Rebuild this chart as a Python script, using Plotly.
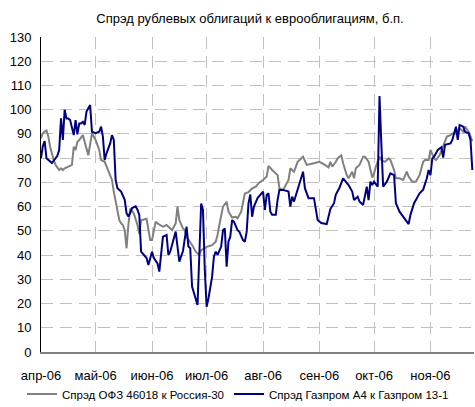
import plotly.graph_objects as go

title_text = "Спрэд рублевых облигаций к еврооблигациям, б.п."
name_gray = "Спрэд ОФЗ 46018 к Россия-30"
name_blue = "Спрэд Газпром А4 к Газпром 13-1"

tick_dates = ["2006-04-01", "2006-05-01", "2006-06-01", "2006-07-01",
              "2006-08-01", "2006-09-01", "2006-10-01", "2006-11-01"]
tick_labels = ["апр-06", "май-06", "июн-06", "июл-06",
               "авг-06", "сен-06", "окт-06", "ноя-06"]

gray_dates = [
    "2006-04-01", "2006-04-02", "2006-04-03", "2006-04-04", "2006-04-05", "2006-04-06",
    "2006-04-08", "2006-04-09", "2006-04-11", "2006-04-12", "2006-04-13", "2006-04-14",
    "2006-04-16", "2006-04-18", "2006-04-19", "2006-04-20", "2006-04-21", "2006-04-22",
    "2006-04-24", "2006-04-26", "2006-04-27", "2006-04-29", "2006-05-01", "2006-05-03",
    "2006-05-04", "2006-05-06", "2006-05-08", "2006-05-10", "2006-05-11", "2006-05-13",
    "2006-05-14", "2006-05-15", "2006-05-16", "2006-05-17", "2006-05-18", "2006-05-19",
    "2006-05-20", "2006-05-22", "2006-05-24", "2006-05-25", "2006-05-26", "2006-05-29",
    "2006-05-31", "2006-06-01", "2006-06-03", "2006-06-04", "2006-06-07", "2006-06-09",
    "2006-06-12", "2006-06-14", "2006-06-15", "2006-06-16", "2006-06-18", "2006-06-19",
    "2006-06-20", "2006-06-23", "2006-06-25", "2006-06-27", "2006-06-28", "2006-07-01",
    "2006-07-04", "2006-07-06", "2006-07-07", "2006-07-08", "2006-07-09", "2006-07-10",
    "2006-07-12", "2006-07-13", "2006-07-15", "2006-07-17", "2006-07-18", "2006-07-20",
    "2006-07-22", "2006-07-24", "2006-07-26", "2006-07-28", "2006-07-30", "2006-08-01",
    "2006-08-03", "2006-08-04", "2006-08-06", "2006-08-09", "2006-08-10", "2006-08-12",
    "2006-08-15", "2006-08-16", "2006-08-18", "2006-08-20", "2006-08-23", "2006-08-25",
    "2006-08-29", "2006-09-01", "2006-09-04", "2006-09-06", "2006-09-07", "2006-09-08",
    "2006-09-10", "2006-09-11", "2006-09-13", "2006-09-14", "2006-09-16", "2006-09-17",
    "2006-09-19", "2006-09-20", "2006-09-21", "2006-09-23", "2006-09-25", "2006-09-26",
    "2006-09-28", "2006-09-30", "2006-10-01", "2006-10-02", "2006-10-04", "2006-10-05",
    "2006-10-07", "2006-10-09", "2006-10-10", "2006-10-12", "2006-10-13", "2006-10-15",
    "2006-10-17", "2006-10-19", "2006-10-20", "2006-10-22", "2006-10-24", "2006-10-26",
    "2006-10-28", "2006-10-29", "2006-10-31", "2006-11-01", "2006-11-03", "2006-11-04",
    "2006-11-06", "2006-11-08", "2006-11-10", "2006-11-12", "2006-11-13", "2006-11-15",
    "2006-11-17", "2006-11-19", "2006-11-20", "2006-11-22", "2006-11-24",
]
gray_values = [
    88.2, 90.3, 91.0, 91.4, 89.0, 84.7,
    79.2, 77.2, 75.1, 75.8, 75.1, 75.8,
    76.5, 77.2, 84.7, 83.4, 86.8, 87.5,
    89.5, 84.0, 81.2, 90.3, 87.5, 83.4,
    79.2, 78.5, 74.4, 71.0, 66.2, 58.7,
    54.5, 53.1, 52.4, 50.3, 42.8, 52.4,
    59.2, 57.2, 52.4, 48.8, 54.4, 55.0,
    46.2, 46.2, 53.8, 53.1, 51.7, 52.4,
    50.3, 53.1, 60.0, 54.4, 51.0, 50.3,
    47.5, 44.2, 41.4, 40.1, 42.0, 43.4,
    44.1, 45.5, 48.3, 52.4, 57.2, 60.0,
    62.0, 58.0, 55.5, 55.8, 55.2, 57.9,
    65.4, 66.0, 67.5, 68.2, 70.0, 71.0,
    72.4, 76.8, 75.1, 73.0, 67.5, 66.9,
    71.0, 75.8, 74.4, 78.5, 80.6, 77.2,
    77.9, 78.5, 77.2, 76.2, 78.5, 76.5,
    78.5, 79.9, 81.2, 77.9, 73.0, 71.7,
    74.4, 71.7, 75.8, 77.2, 80.6, 80.6,
    78.5, 72.0, 73.7, 76.5, 80.6, 79.2,
    78.5, 79.9, 79.2, 75.1, 71.7, 71.7,
    71.0, 74.4, 72.4, 70.3, 70.3, 73.0,
    78.5, 79.2, 79.2, 83.4, 79.9, 79.2,
    81.2, 84.7, 88.9, 89.5, 90.2, 90.2,
    92.3, 90.9, 93.0, 90.9, 87.0,
]

blue_dates = [
    "2006-04-01", "2006-04-02", "2006-04-03", "2006-04-04", "2006-04-07", "2006-04-08",
    "2006-04-10", "2006-04-11", "2006-04-12", "2006-04-13", "2006-04-14", "2006-04-15",
    "2006-04-16", "2006-04-17", "2006-04-19", "2006-04-20", "2006-04-21", "2006-04-22",
    "2006-04-23", "2006-04-24", "2006-04-25", "2006-04-26", "2006-04-28", "2006-04-29",
    "2006-05-01", "2006-05-03", "2006-05-04", "2006-05-05", "2006-05-06", "2006-05-07",
    "2006-05-09", "2006-05-10", "2006-05-11", "2006-05-12", "2006-05-13", "2006-05-15",
    "2006-05-17", "2006-05-18", "2006-05-19", "2006-05-20", "2006-05-21", "2006-05-23",
    "2006-05-24", "2006-05-25", "2006-05-26", "2006-05-29", "2006-05-30", "2006-06-01",
    "2006-06-02", "2006-06-04", "2006-06-05", "2006-06-07", "2006-06-09", "2006-06-10",
    "2006-06-11", "2006-06-14", "2006-06-15", "2006-06-16", "2006-06-18", "2006-06-20",
    "2006-06-21", "2006-06-22", "2006-06-23", "2006-06-25", "2006-06-26", "2006-06-28",
    "2006-06-29", "2006-06-30", "2006-07-01", "2006-07-02", "2006-07-04", "2006-07-05",
    "2006-07-06", "2006-07-07", "2006-07-09", "2006-07-10", "2006-07-11", "2006-07-12",
    "2006-07-13", "2006-07-14", "2006-07-15", "2006-07-16", "2006-07-18", "2006-07-19",
    "2006-07-21", "2006-07-22", "2006-07-23", "2006-07-24", "2006-07-25", "2006-07-26",
    "2006-07-27", "2006-07-29", "2006-08-01", "2006-08-02", "2006-08-03", "2006-08-04",
    "2006-08-05", "2006-08-06", "2006-08-08", "2006-08-09", "2006-08-10", "2006-08-12",
    "2006-08-15", "2006-08-16", "2006-08-17", "2006-08-18", "2006-08-20", "2006-08-22",
    "2006-08-23", "2006-08-24", "2006-08-26", "2006-08-29", "2006-08-31", "2006-09-02",
    "2006-09-05", "2006-09-07", "2006-09-09", "2006-09-10", "2006-09-12", "2006-09-14",
    "2006-09-17", "2006-09-19", "2006-09-20", "2006-09-22", "2006-09-23", "2006-09-25",
    "2006-09-27", "2006-09-28", "2006-09-29", "2006-09-30", "2006-10-01", "2006-10-03",
    "2006-10-04", "2006-10-05", "2006-10-06", "2006-10-08", "2006-10-10", "2006-10-12",
    "2006-10-13", "2006-10-15", "2006-10-17", "2006-10-20", "2006-10-21", "2006-10-23",
    "2006-10-26", "2006-10-28", "2006-10-30", "2006-10-31", "2006-11-01", "2006-11-02",
    "2006-11-03", "2006-11-05", "2006-11-07", "2006-11-08", "2006-11-09", "2006-11-12",
    "2006-11-13", "2006-11-15", "2006-11-16", "2006-11-17", "2006-11-19", "2006-11-20",
    "2006-11-22", "2006-11-23", "2006-11-24",
]
blue_values = [
    80.0, 85.0, 87.0, 80.0, 78.0, 79.0,
    81.0, 83.4, 96.4, 87.5, 100.0, 96.4,
    96.4, 95.7, 89.5, 95.7, 89.8, 94.3,
    94.3, 95.0, 93.7, 99.2, 101.9, 90.9,
    90.3, 90.9, 93.0, 88.9, 79.2, 82.0,
    86.1, 89.5, 87.5, 71.0, 67.6, 66.2,
    62.8, 57.3, 55.9, 57.3, 59.4, 60.1,
    58.7, 56.6, 41.4, 38.8, 35.9, 41.4,
    38.8, 36.6, 33.2, 47.6, 48.3, 40.0,
    41.4, 49.7, 44.2, 37.3, 41.7, 51.7,
    43.5, 42.8, 27.0, 21.6, 19.4, 61.3,
    58.6, 33.9, 18.7, 22.1, 31.0, 39.3,
    41.4, 40.1, 43.5, 50.3, 51.0, 35.2,
    45.5, 47.6, 54.4, 53.8, 50.3, 49.6,
    46.2, 45.5, 49.6, 61.3, 65.0, 55.8,
    60.0, 63.5, 66.2, 58.6, 64.8, 65.5,
    57.9, 56.6, 56.6, 62.8, 66.9, 66.9,
    66.2, 60.0, 64.1, 62.1, 66.9, 71.0,
    74.4, 67.6, 63.5, 63.5, 54.5, 53.2,
    52.8, 59.0, 61.4, 65.0, 67.8, 71.7,
    68.9, 66.2, 62.7, 64.1, 62.1, 60.7,
    68.2, 62.7, 70.3, 68.9, 70.3, 68.2,
    105.6, 86.1, 68.2, 70.3, 73.7, 73.0,
    61.4, 57.9, 55.9, 52.8, 56.6, 61.4,
    65.5, 67.0, 71.7, 75.1, 73.0, 79.9,
    80.6, 83.4, 84.5, 80.2, 85.5, 86.1,
    87.5, 93.0, 87.5, 93.7, 93.0, 90.9,
    90.2, 87.5, 75.1,
]

y_ticks = list(range(0, 131, 10))

FONT = "Arial, Liberation Sans, sans-serif"

fig = go.Figure()
fig.add_trace(go.Scatter(x=gray_dates, y=gray_values, mode="lines", name=name_gray,
                         line=dict(color="#808080", width=2)))
fig.add_trace(go.Scatter(x=blue_dates, y=blue_values, mode="lines", name=name_blue,
                         line=dict(color="#000080", width=2)))

fig.update_layout(
    width=475, height=407,
    margin=dict(l=41, r=1, t=37, b=55, autoexpand=False),
    paper_bgcolor="white", plot_bgcolor="white",
    font=dict(family=FONT, size=13, color="black"),
    title=dict(text=title_text, x=250 / 475, xref="container", xanchor="center",
               y=1 - 18 / 407, yref="container", yanchor="middle",
               font=dict(family=FONT, size=13, color="black")),
    showlegend=True,
    legend=dict(orientation="h", x=22 / 475, xref="container", xanchor="left",
                y=1 - 394 / 407, yref="container", yanchor="middle",
                font=dict(family=FONT, size=11.5, color="black"),
                bgcolor="rgba(0,0,0,0)", itemwidth=30,
                tracegroupgap=0, traceorder="normal"),
    xaxis=dict(
        type="date",
        range=["2006-04-01", "2006-11-24 22:00"],
        tickvals=tick_dates, ticktext=tick_labels,
        showgrid=True, gridcolor="#c0c0c0", gridwidth=1, griddash="12px,7px",
        showline=True, linecolor="#808080", linewidth=2,
        ticks="", ticklabelstandoff=10,
        tickfont=dict(family=FONT, size=13, color="black"),
        zeroline=False,
    ),
    yaxis=dict(
        range=[0, 130], tickvals=y_ticks,
        showgrid=True, gridcolor="#c0c0c0", gridwidth=1, griddash="12px,7px",
        showline=True, linecolor="black", linewidth=1,
        ticks="", ticklabelstandoff=6,
        tickfont=dict(family=FONT, size=13, color="black"),
        zeroline=False,
    ),
)

fig.write_html("out.html", config={"displayModeBar": False},
               post_script="document.body.style.margin='0';")
